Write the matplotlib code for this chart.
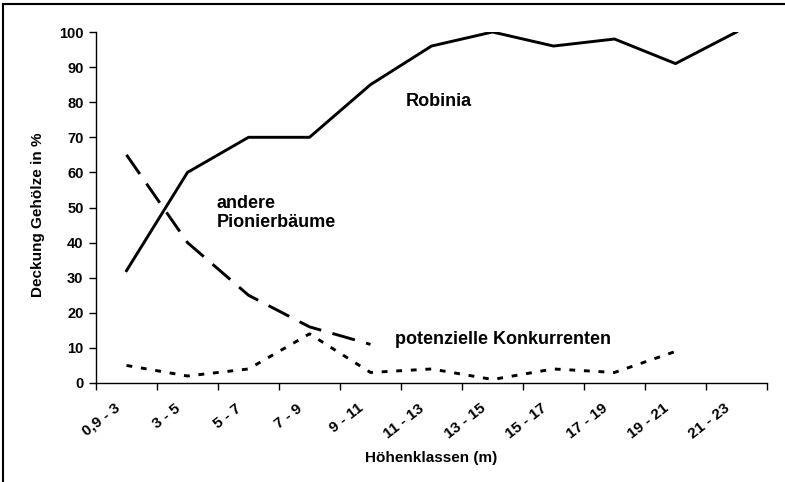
import numpy as np
import matplotlib
matplotlib.use("Agg")
import matplotlib.pyplot as plt
from matplotlib.transforms import ScaledTranslation
from matplotlib.lines import Line2D

plt.rcParams['font.family'] = ['Liberation Sans', 'DejaVu Sans']
plt.rcParams['font.weight'] = 'bold'

klassen = ['0,9 - 3', '3 - 5', '5 - 7', '7 - 9', '9 - 11', '11 - 13',
           '13 - 15', '15 - 17', '17 - 19', '19 - 21', '21 - 23']
robinia = [32, 60, 70, 70, 85, 96, 100, 96, 98, 91, 100]
pionier = [65, 40, 25, 16, 11]
konkurrenten = [5, 2, 4, 14, 3, 4, 1, 4, 3, 9]

fig = plt.figure(figsize=(7.85, 4.82), dpi=100)
ax = fig.add_axes([96/785, 1-383/482, (767-96)/785, (383-32)/482])

x = np.arange(len(klassen)) + 0.5
ax.plot(x, robinia, color='black', lw=2.1)
ax.plot(x[:len(pionier)], pionier, color='black', lw=2.1, dashes=(8, 4))
ax.plot(x[:len(konkurrenten)], konkurrenten, color='black', lw=2.1, dashes=(2, 3))

ax.set_xlim(0, len(klassen))
ax.set_ylim(0, 100)
ax.set_yticks(range(0, 101, 10))
ax.tick_params(axis='y', direction='out', length=5, width=1, labelsize=10.5, pad=4)

ax.set_xticks(np.arange(len(klassen) + 1), minor=True)
ax.tick_params(axis='x', which='minor', direction='out', length=5, width=1)
ax.set_xticks(x, klassen, rotation=38, ha='right', va='top', rotation_mode='anchor')
ax.tick_params(axis='x', which='major', length=0, labelsize=11, pad=13)
offset = ScaledTranslation(-13/100, 0, fig.dpi_scale_trans)
for lab in ax.get_xticklabels():
    lab.set_transform(lab.get_transform() + offset)

for s in ['top', 'right']:
    ax.spines[s].set_visible(False)
for s in ['left', 'bottom']:
    ax.spines[s].set_linewidth(1)

ax.set_ylabel('Deckung Gehölze in %', fontsize=11, fontweight='bold')
ax.yaxis.set_label_coords(-51/671, 0.48)
ax.set_xlabel('Höhenklassen (m)', fontsize=11, fontweight='bold')
ax.xaxis.set_label_coords(0.5, -(451-383)/351)

ax.text(5.07, 80.3, 'Robinia', fontsize=13, fontweight='bold', va='center')
ax.text(1.98, 48.4, 'andere\nPionierbäume', fontsize=13, fontweight='bold',
        va='center', linespacing=1.15)
ax.text(4.9, 12.5, 'potenzielle Konkurrenten', fontsize=13, fontweight='bold',
        va='center')

# frame of the original chart (only top and left edges visible)
fig.add_artist(Line2D([3/785, 3/785], [0, 1-4/482], color='black', lw=1.5,
                      transform=fig.transFigure))
fig.add_artist(Line2D([3/785, 1], [1-4/482, 1-4/482], color='black', lw=1.5,
                      transform=fig.transFigure))

fig.savefig('out.png', dpi=100)
